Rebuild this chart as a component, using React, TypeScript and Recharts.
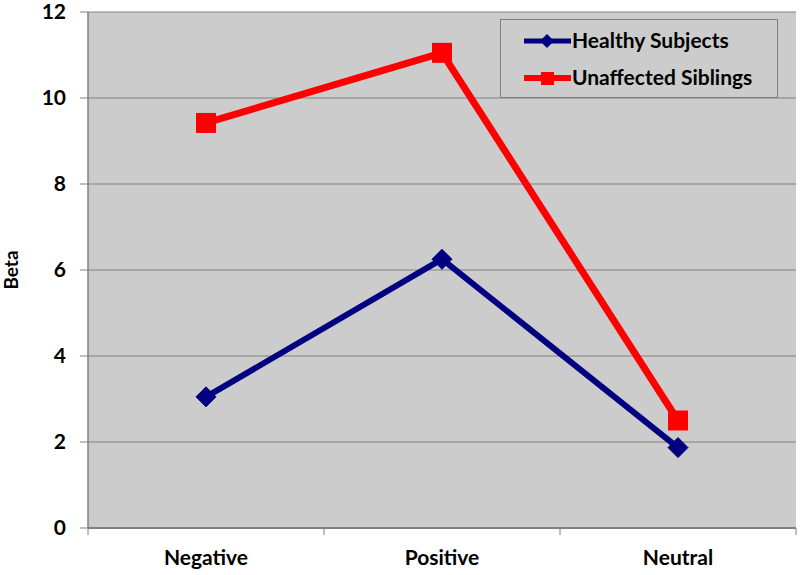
import React from "react";
import { LineChart, Line, XAxis, YAxis, CartesianGrid, Label } from "recharts";

const categories = ["Negative", "Positive", "Neutral"];
const healthySubjects = [3.05, 6.25, 1.87];
const unaffectedSiblings = [9.42, 11.05, 2.5];
const yTicks = [0, 2, 4, 6, 8, 10, 12];

const data = categories.map((c, i) => ({
  category: c,
  healthy: healthySubjects[i],
  siblings: unaffectedSiblings[i],
}));

const FONT = "Lato, 'Open Sans', sans-serif";
const NAVY = "#000080";
const RED = "#FF0000";
const HALF_BAND = 118;
const AXIS_Y = 528;

const Diamond = (props: any) => {
  const { cx, cy } = props;
  if (cx == null || cy == null) return null;
  const r = 10;
  return (
    <polygon
      points={`${cx},${cy - r} ${cx + r},${cy} ${cx},${cy + r} ${cx - r},${cy}`}
      fill={NAVY}
      stroke={NAVY}
    />
  );
};

const Square = (props: any) => {
  const { cx, cy } = props;
  if (cx == null || cy == null) return null;
  const s = 20;
  return <rect x={cx - s / 2} y={cy - s / 2} width={s} height={s} fill={RED} />;
};

const XTick = (props: any) => {
  const { x, payload, index } = props;
  return (
    <g>
      <line x1={x - HALF_BAND} x2={x - HALF_BAND} y1={AXIS_Y} y2={AXIS_Y + 7} stroke="#808080" />
      {index === categories.length - 1 && (
        <line x1={x + HALF_BAND} x2={x + HALF_BAND} y1={AXIS_Y} y2={AXIS_Y + 7} stroke="#808080" />
      )}
      <text
        x={x}
        y={565}
        textAnchor="middle"
        fontFamily={FONT}
        fontWeight={700}
        fontSize={21}
        fill="#000"
      >
        {payload.value}
      </text>
    </g>
  );
};

const LegendBox = () => (
  <div
    style={{
      position: "absolute",
      left: 500,
      top: 19,
      width: 278,
      height: 79,
      border: "1px solid #7f7f7f",
      background: "#CCCCCC",
      boxSizing: "border-box",
    }}
  >
    <svg width={276} height={77} style={{ display: "block" }}>
      <line x1={23} y1={21} x2={70} y2={21} stroke={NAVY} strokeWidth={5} />
      <polygon points="46,14 53,21 46,28 39,21" fill={NAVY} />
      <text x={71} y={28} fontFamily={FONT} fontWeight={700} fontSize={21}>Healthy Subjects</text>
      <line x1={23} y1={58} x2={70} y2={58} stroke={RED} strokeWidth={6} />
      <rect x={40} y={52} width={13} height={13} fill={RED} />
      <text x={71} y={65} fontFamily={FONT} fontWeight={700} fontSize={21}>Unaffected Siblings</text>
    </svg>
  </div>
);

export default function App() {
  return (
    <div style={{ position: "absolute", left: 0, top: 0, width: 800, height: 575, background: "#fff" }}>
      <LineChart
        width={800}
        height={575}
        data={data}
        margin={{ top: 12, right: 4, bottom: 0, left: 0 }}
      >
        <CartesianGrid vertical={false} stroke="#808080" strokeWidth={1} fill="#CCCCCC" fillOpacity={1} />
        <XAxis
          dataKey="category"
          scale="point"
          height={47}
          padding={{ left: HALF_BAND, right: HALF_BAND }}
          tickLine={false}
          axisLine={{ stroke: "#808080", strokeWidth: 2 }}
          tick={<XTick />}
          interval={0}
        />
        <YAxis
          width={88}
          domain={[0, 12]}
          ticks={yTicks}
          interval={0}
          tickLine={{ stroke: "#808080" }}
          tickSize={8}
          axisLine={{ stroke: "#808080", strokeWidth: 1.5 }}
          tick={{ fontFamily: FONT, fontWeight: 700, fontSize: 21, fill: "#000" }}
          tickMargin={14}
        >
          <Label
            value="Beta"
            angle={-90}
            position="insideLeft"
            offset={11}
            style={{ fontFamily: FONT, fontWeight: 700, fontSize: 19, fill: "#000", textAnchor: "middle" }}
          />
        </YAxis>
        <Line
          dataKey="healthy"
          name="Healthy Subjects"
          stroke={NAVY}
          strokeWidth={6}
          dot={<Diamond />}
          activeDot={false}
          isAnimationActive={false}
        />
        <Line
          dataKey="siblings"
          name="Unaffected Siblings"
          stroke={RED}
          strokeWidth={7}
          dot={<Square />}
          activeDot={false}
          isAnimationActive={false}
        />
      </LineChart>
      <LegendBox />
    </div>
  );
}
